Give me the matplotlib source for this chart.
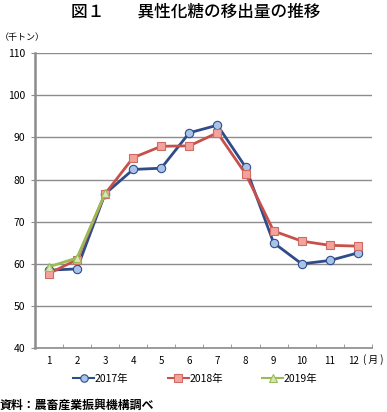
import matplotlib
matplotlib.use("Agg")
import matplotlib.pyplot as plt
from matplotlib.ticker import FixedLocator
from matplotlib.transforms import ScaledTranslation

plt.rcParams['font.family'] = ['Noto Sans CJK JP', 'DejaVu Sans']

months = [1, 2, 3, 4, 5, 6, 7, 8, 9, 10, 11, 12]
month_labels = ['1', '2', '3', '4', '5', '6', '7', '8', '9', '10', '11', '12']
y2017 = [58.5, 58.8, 76.6, 82.4, 82.7, 91.1, 92.9, 83.0, 65.0, 60.0, 60.8, 62.6]
y2018 = [57.7, 61.0, 76.6, 85.2, 87.9, 88.0, 91.1, 81.4, 67.8, 65.4, 64.4, 64.2]
m2019 = [1, 2, 3]
y2019 = [59.3, 61.4, 76.7]
series_names = ['2017年', '2018年', '2019年']
yticks = [40, 50, 60, 70, 80, 90, 100, 110]

fig = plt.figure(figsize=(3.87, 4.12), dpi=100)
ax = fig.add_axes([0.090, 0.155, 0.871, 0.716])

ax.plot(months, y2017, color='#2F4B8A', lw=2.0, marker='o', ms=6,
        mfc='#A8C2E8', mec='#2F4B8A', mew=0.8, label=series_names[0], zorder=3)
ax.plot(months, y2018, color='#C8504A', lw=2.0, marker='s', ms=6,
        mfc='#F2A49C', mec='#D06A62', mew=0.8, label=series_names[1], zorder=4)
ax.plot(m2019, y2019, color='#9BBB59', lw=2.0, marker='^', ms=6,
        mfc='#D8E6B8', mec='#9BBB59', mew=0.8, label=series_names[2], zorder=5)

ax.set_xlim(0.5, 12.5)
ax.set_ylim(40, 110)
ax.set_yticks(yticks)
ax.yaxis.grid(True, color='#8C8C8C', lw=1.0)
ax.set_axisbelow(True)
ax.set_xticks(months)
ax.set_xticklabels(month_labels)
ax.xaxis.set_minor_locator(FixedLocator([m + 0.5 for m in range(0, 13)]))
ax.tick_params(axis='x', which='major', length=0, labelsize=7, pad=6)
ax.tick_params(axis='x', which='minor', length=3, direction='in', color='#8C8C8C')
ax.tick_params(axis='y', length=3, color='#8C8C8C', labelsize=7.5, pad=4)
last = ax.get_xticklabels()[-1]
last.set_transform(last.get_transform() + ScaledTranslation(-4 / 100, 0, fig.dpi_scale_trans))
for s in ['top', 'right']:
    ax.spines[s].set_visible(False)
ax.spines['left'].set_color('#8C8C8C')
ax.spines['left'].set_linewidth(1.8)
ax.spines['bottom'].set_color('#8C8C8C')
ax.spines['bottom'].set_linewidth(1.2)

fig.text(0.505, 0.972, '図１　　異性化糖の移出量の推移', ha='center', va='center',
         fontsize=12, fontweight='medium')
fig.text(0.0, 0.91, '（千トン）', ha='left', va='center', fontsize=6.5)
fig.text(0.937, 0.128, '( 月 )', ha='left', va='center', fontsize=7)
leg = fig.legend(loc='center', bbox_to_anchor=(0.505, 0.080), ncol=3, frameon=False,
                 fontsize=7.5, handlelength=2.0, columnspacing=3.8, handletextpad=0.05,
                 markerscale=0.9)
for ln in leg.get_lines():
    ln.set_linewidth(1.5)
fig.text(0.0, 0.016, '資料：農畜産業振興機構調べ', ha='left', va='center',
         fontsize=8.6, fontweight='bold')

fig.savefig('out.png', dpi=100)
